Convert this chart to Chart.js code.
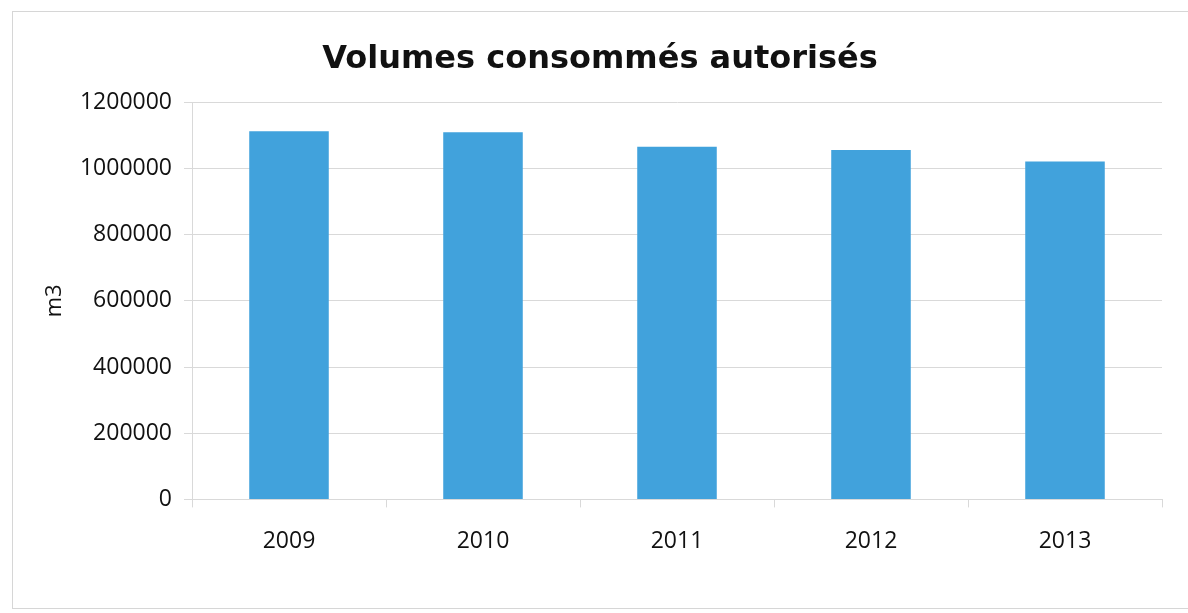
<!DOCTYPE html>
<html>
<head>
<meta charset="utf-8">
<script src="https://cdn.jsdelivr.net/npm/chart.js@4.4.1/dist/chart.umd.min.js"></script>
<style>
  html, body { margin: 0; padding: 0; background: #fff; }
  #wrap { position: relative; width: 1188px; height: 613px; overflow: hidden; }
  #frame {
    position: absolute; left: 12px; top: 11px; width: 1200px; height: 598px;
    border: 1px solid #d6d6d6; box-sizing: border-box;
  }
  canvas { position: absolute; left: 0; top: 0; }
</style>
</head>
<body>
<div id="wrap">
  <div id="frame"></div>
  <canvas id="chart" width="1188" height="613"></canvas>
</div>
<script>
// chart data
const years = ["2009", "2010", "2011", "2012", "2013"];
const volumes = [1113000, 1110000, 1066000, 1056000, 1021000];
const yTicks = [0, 200000, 400000, 600000, 800000, 1000000, 1200000];

const GRID = "#d9d9d9";
const TEXT = "#111111";

new Chart(document.getElementById("chart"), {
  type: "bar",
  data: {
    labels: years,
    datasets: [{
      data: volumes,
      backgroundColor: "#41a2dc",
      borderWidth: 0,
      categoryPercentage: 1,
      barPercentage: 0.41
    }]
  },
  options: {
    responsive: false,
    animation: false,
    layout: { padding: { left: 38, right: 26, top: 0, bottom: 38 } },
    plugins: {
      legend: { display: false },
      tooltip: { enabled: false },
      title: {
        display: true,
        text: "Volumes consommés autorisés",
        color: TEXT,
        font: { family: "DejaVu Sans", size: 32, weight: "bold" },
        padding: { top: 40, bottom: 24 }
      }
    },
    scales: {
      x: {
        grid: { display: true, drawOnChartArea: false, color: GRID, tickLength: 8 },
        border: { color: GRID },
        ticks: {
          color: TEXT,
          padding: 20,
          font: { family: "Open Sans", size: 23 }
        }
      },
      y: {
        min: 0,
        max: 1200000,
        afterBuildTicks: (axis) => { axis.ticks = yTicks.map(v => ({ value: v })); },
        afterFit: (axis) => { axis.width = 154; },
        grid: { color: GRID, tickLength: 8 },
        border: { color: GRID },
        ticks: {
          color: TEXT,
          padding: 12,
          font: { family: "Open Sans", size: 23 },
          callback: (v) => String(v)
        },
        title: {
          display: true,
          text: "m3",
          color: TEXT,
          padding: 4,
          font: { family: "Open Sans", size: 22 }
        }
      }
    }
  }
});
</script>
</body>
</html>
